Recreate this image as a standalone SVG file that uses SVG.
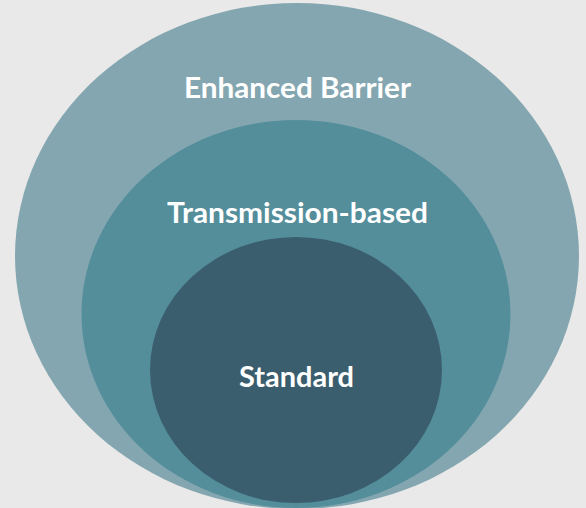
<svg xmlns="http://www.w3.org/2000/svg" width="586" height="508" viewBox="0 0 586 508">
<style>
.lbl{font-family:Lato,"Open Sans","Liberation Sans",sans-serif;font-weight:bold;font-size:28.5px;fill:#ffffff;text-anchor:middle}
</style>
<rect width="586" height="508" fill="#e8e9e8"/>
<g id="enhanced-barrier">
<ellipse cx="297" cy="256" rx="282" ry="253" fill="#84a6b0"/>
<text class="lbl" x="297.5" y="98" textLength="227" lengthAdjust="spacingAndGlyphs">Enhanced Barrier</text>
</g>
<g id="transmission-based">
<ellipse cx="296" cy="314" rx="214.5" ry="194" fill="#548e9b"/>
<text class="lbl" x="297.5" y="223" textLength="261" lengthAdjust="spacingAndGlyphs">Transmission-based</text>
</g>
<g id="standard">
<ellipse cx="296" cy="370" rx="146" ry="133" fill="#3b5e6e"/>
<text class="lbl" x="296.5" y="387" textLength="115" lengthAdjust="spacingAndGlyphs">Standard</text>
</g>
<g id="connectors"/>
</svg>
